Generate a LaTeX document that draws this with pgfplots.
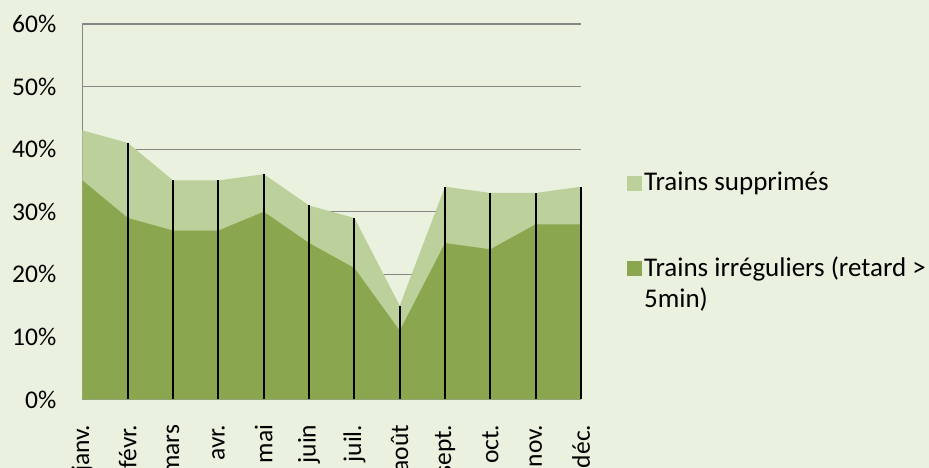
\documentclass[border=0pt]{standalone}
\usepackage{pgfplots}
\pgfplotsset{compat=1.18}
\usepackage{fontspec}
\setmainfont{Carlito}
\definecolor{bg}{RGB}{234,241,222}
\definecolor{darkg}{RGB}{138,166,79}
\definecolor{lightg}{RGB}{187,208,154}
\definecolor{gridc}{RGB}{134,134,134}
\begin{document}
\fontsize{25.5}{30}\selectfont
\begin{tikzpicture}
\fill[bg] (-82.5pt,-68.5pt) rectangle (846.5pt,399.5pt);
\useasboundingbox (-82.5pt,-68.5pt) rectangle (846.5pt,399.5pt);
\begin{axis}[
  at={(0pt,0pt)}, anchor=south west,
  scale only axis, width=498.5pt, height=375.5pt,
  xmin=0, xmax=11, ymin=0, ymax=60,
  clip=false,
  axis x line=bottom, axis y line=left,
  axis line style={-, gridc, line width=1.3pt},
  ymajorgrids, grid style={gridc, line width=1.3pt},
  major tick length=0pt,
  ytick={0,10,...,60},
  yticklabel={\pgfmathprintnumber{\tick}\%},
  /pgf/number format/assume math mode=true,
  yticklabel style={anchor=east, inner sep=0pt},
  yticklabel shift=26pt,
  xtick={0,...,11},
  xticklabels={janv.,févr.,mars,avr.,mai,juin,juil.,août,sept.,oct.,nov.,déc.},
  xticklabel style={rotate=90, anchor=east, inner sep=0pt},
  xticklabel shift=25pt,
  tick label style={font=\fontsize{25.5}{30}\selectfont},
  legend style={at={(rel axis cs:1.086,0.617)}, anchor=north west, draw=none, fill=none,
    font=\fontsize{27}{31}\selectfont, row sep=58pt,
    cells={anchor=west}},
  legend cell align=left,
  legend image code/.code={\path[#1] (-4pt,-7.5pt) rectangle (11pt,7.5pt);},
]
\addplot[fill=lightg, draw=none] coordinates {
(0,43) (1,41) (2,35) (3,35) (4,36) (5,31) (6,29) (7,15) (8,34) (9,33) (10,33) (11,34)
} \closedcycle;
\addlegendentry{Trains supprimés}
\addplot[fill=darkg, draw=none] coordinates {
(0,35) (1,29) (2,27) (3,27) (4,30) (5,25) (6,21) (7,11) (8,25) (9,24) (10,28) (11,28)
} \closedcycle;
\addlegendentry{\vtop{\baselineskip=31pt\hbox{Trains irréguliers (retard >}\hbox{5min)}}}
\addplot[ycomb, black, line width=2pt, mark=none, forget plot] coordinates {
(1,41) (2,35) (3,35) (4,36) (5,31) (6,29) (7,15) (8,34) (9,33) (10,33) (11,34)
};
\end{axis}
\end{tikzpicture}
\end{document}
